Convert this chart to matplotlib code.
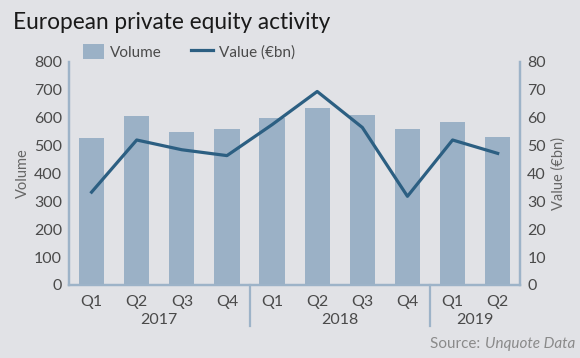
import matplotlib
matplotlib.use("Agg")
import matplotlib.pyplot as plt
import matplotlib.transforms as mtransforms
import numpy as np

plt.rcParams["font.family"] = ["Lato", "DejaVu Sans"]

quarters = ["Q1", "Q2", "Q3", "Q4", "Q1", "Q2", "Q3", "Q4", "Q1", "Q2"]
years = ["2017", "2018", "2019"]
year_centers = [1.5, 5.5, 8.5]
year_breaks = [3.5, 7.5]
volume = [528, 606, 549, 561, 600, 636, 610, 558, 586, 532]
value_bn = [33.3, 52.0, 48.5, 46.4, 57.5, 69.4, 56.5, 31.8, 52.0, 47.2]

bg = "#e1e2e6"
bar_col = "#9bb1c6"
line_col = "#2c5f82"
spine_col = "#9db3c8"
tick_col = "#4a4a4a"
label_col = "#666666"

fig = plt.figure(figsize=(5.8, 3.58), dpi=100, facecolor=bg)
ax = fig.add_axes([0.119, 0.204, 0.778, 0.623])
ax.set_facecolor(bg)
x = np.arange(len(volume))
bars = ax.bar(x, volume, width=0.56, color=bar_col, label="Volume", zorder=2)
ax.set_xlim(-0.5, 9.5)
ax.set_ylim(0, 800)
ax.set_yticks(range(0, 801, 100))
ax.set_xticks(x)
ax.set_xticklabels(quarters)
ax.set_ylabel("Volume", fontsize=10.5, color=label_col, labelpad=3)

ax2 = ax.twinx()
line, = ax2.plot(x, value_bn, color=line_col, lw=2.3, label="Value (€bn)", zorder=3)
ax2.set_ylim(0, 80)
ax2.set_yticks(range(0, 81, 10))
ax2.set_ylabel("Value (€bn)", fontsize=10.5, color=label_col, labelpad=4)

for a in (ax, ax2):
    a.spines["top"].set_visible(False)
    for s in ("left", "right", "bottom"):
        a.spines[s].set_color(spine_col)
        a.spines[s].set_linewidth(1.6)
    a.tick_params(length=0, labelsize=11.5, colors=tick_col, pad=5)
ax.tick_params(axis="x", pad=7)

# year separators and labels
trans = mtransforms.blended_transform_factory(ax.transData, ax.transAxes)
for b in year_breaks:
    ax.plot([b, b], [0, -0.185], color=spine_col, lw=1.6, transform=trans, clip_on=False)
for xc, yr in zip(year_centers, years):
    ax.text(xc, -0.158, yr, transform=trans, ha="center", va="center", fontsize=11.5, color=tick_col)

fig.text(0.022, 0.937, "European private equity activity", fontsize=16.3, color="#1a1a1a", va="center", ha="left")

fig.legend([bars, line], ["Volume", "Value (€bn)"], loc="center left",
           bbox_to_anchor=(0.143, 0.855), ncol=2, frameon=False, fontsize=11,
           handlelength=1.4, handleheight=1.1, handletextpad=0.4, columnspacing=1.9,
           borderpad=0, borderaxespad=0, labelcolor=tick_col)

src_it = fig.text(0.991, 0.04, "Unquote Data", fontsize=11, style="italic", color="#8a8a8a", ha="right", va="center")
fig.canvas.draw()
bb = src_it.get_window_extent()
fig.text(bb.x0 / fig.bbox.width, 0.04, "Source: ", fontsize=11, color="#8a8a8a", ha="right", va="center")

fig.savefig("out.png", dpi=100, facecolor=bg)
